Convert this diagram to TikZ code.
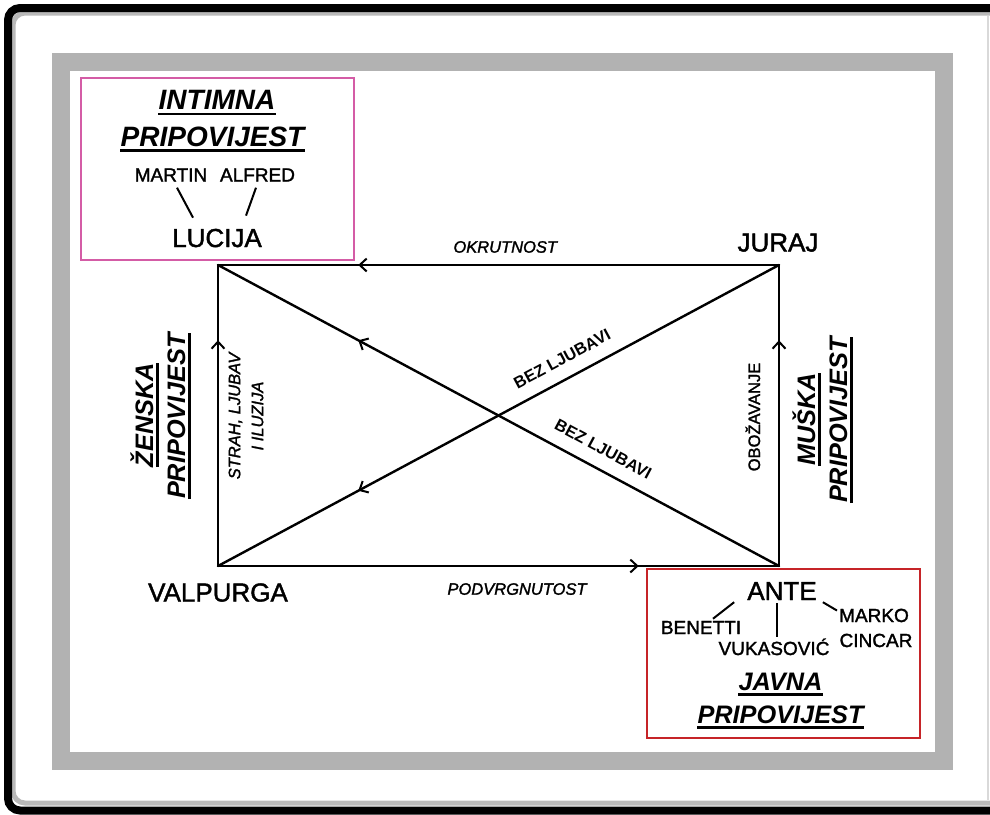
\documentclass[tikz,border=0pt]{standalone}
\usepackage{fontspec}
\setmainfont{Liberation Sans}[UprightFeatures={FakeBold=1.6},ItalicFeatures={FakeBold=1.6}]
\usetikzlibrary{arrows.meta,decorations.markings,calc}

\definecolor{framegray}{RGB}{178,178,178}
\definecolor{intimpink}{RGB}{212,92,166}
\definecolor{javred}{RGB}{198,36,40}

\tikzset{
  person/.style={font=\fontsize{26}{30}\selectfont, inner sep=0pt},
  minor/.style={font=\fontsize{19}{22}\selectfont, inner sep=0pt},
  title/.style={font=\fontsize{28}{32}\selectfont\bfseries\itshape, inner sep=0pt},
  subtitle/.style={font=\fontsize{25.3}{29}\selectfont\bfseries\itshape, inner sep=0pt},
  theme/.style={font=\fontsize{16.5}{23}\selectfont\itshape, inner sep=0pt},
  themeup/.style={font=\fontsize{16.5}{23}\selectfont, inner sep=0pt},
  nolove/.style={font=\fontsize{16.5}{20}\selectfont\bfseries, inner sep=0pt,
    sloped, above, outer ysep=14pt},
  edge/.style={line width=2.4pt, line cap=round, postaction={decorate},
    decoration={markings,
      mark=at position 0.75 with {\arrow{Straight Barb[length=7pt,width=13pt,line width=2pt]}}}},
  tie/.style={line width=2pt},
  uline/.style={line width=2.6pt},
}

\begin{document}
\begin{tikzpicture}[x=1pt,y=-1pt]
  \useasboundingbox (0,0) rectangle (990,814);
  \clip (0,0) rectangle (990,814);

  % outer frame with shadow
  \draw[gray!55, line width=5pt, rounded corners=12pt] (13,13) rectangle (1040,803);
  \draw[black, line width=8pt, rounded corners=12pt] (8,8) rectangle (1040,810.5);
  \draw[gray!30, line width=2pt] (988,16) -- (988,800);
  % gray passe-partout
  \fill[framegray] (52,53) rectangle (953,770);
  \fill[white] (70,71) rectangle (935,752);

  % story boxes
  \draw[intimpink, line width=2.2pt] (81,78) rectangle (354,260);
  \draw[javred, line width=2.2pt] (647,569) rectangle (920,738);

  % corners of the square
  \coordinate (cl) at (218,265);
  \coordinate (cj) at (779,265);
  \coordinate (cv) at (218,566);
  \coordinate (ca) at (779,566);

  % persons
  \node[person, anchor=base] (lucija) at (217,247) {LUCIJA};
  \node[person, anchor=base] (juraj) at (778,251.5) {JURAJ};
  \node[person, anchor=base] (valpurga) at (218,601.5) {VALPURGA};
  \node[person, anchor=base] (ante) at (782,600) {ANTE};

  \node[minor, anchor=base] (martin) at (171,181.5) {MARTIN};
  \node[minor, anchor=base] (alfred) at (257.5,181.5) {ALFRED};
  \node[minor, anchor=base] (benetti) at (701,634) {BENETTI};
  \node[minor, anchor=base] (vukasovic) at (774,655) {VUKASOVIĆ};
  \node[minor, anchor=base] (marko) at (874,622) {MARKO};
  \node[minor, anchor=base] (cincar) at (876,647) {CINCAR};

  % ties
  \draw[tie] ([shift={(6,6)}]martin.south) -- ([shift={(-24,-11)}]lucija.north);
  \draw[tie] ([shift={(-1.5,6)}]alfred.south) -- ([shift={(29,-13)}]lucija.north);
  \draw[tie] ([shift={(-13,2)}]ante.south west) -- ([shift={(12,-2)}]benetti.north);
  \draw[tie] ([shift={(-5,3)}]ante.south) -- ([shift={(3,-1.5)}]vukasovic.north);
  \draw[tie] ([shift={(6,2)}]ante.south east) -- ([shift={(-2,2)}]marko.north west);

  % stories
  \node[title, anchor=base] (intimna) at (217,109.5) {INTIMNA};
  \node[title, anchor=base] (intpri) at (212.5,146) {PRIPOVIJEST};
  \node[subtitle, anchor=base] (javna) at (780.5,690) {JAVNA};
  \node[subtitle, anchor=base] (javpri) at (780.5,723) {PRIPOVIJEST};
  \node[subtitle, anchor=base, rotate=90] (zenska) at (153,415) {ŽENSKA};
  \node[subtitle, anchor=base, rotate=90] (zenpri) at (185,416) {PRIPOVIJEST};
  \node[subtitle, anchor=base, rotate=90] (muska) at (815,419.5) {MUŠKA};
  \node[subtitle, anchor=base, rotate=90] (muspri) at (847,420) {PRIPOVIJEST};
  \foreach \n in {intimna,intpri,javna,javpri,zenska,zenpri,muska,muspri}
    \draw[uline] ($(\n.base west)!4.5pt!-90:(\n.base east)$)
      -- ($(\n.base east)!4.5pt!90:(\n.base west)$);

  % relations
  \draw[edge] (cj) -- node[theme, pos=0.488, above=11pt] {OKRUTNOST} (cl);
  \draw[edge] (cv) -- node[theme, pos=0.533, below=16pt] {PODVRGNUTOST} (ca);
  \draw[edge] (cv) -- (cl);
  \draw[edge] (ca) -- (cj);
  \draw[edge] (cj) -- node[nolove, pos=0.37] {BEZ LJUBAVI} (cv);
  \draw[edge] (ca) -- node[nolove, pos=0.33] {BEZ LJUBAVI} (cl);

  \node[theme, rotate=90, align=center] (fear) at (246,416) {STRAH, LJUBAV\\I ILUZIJA};
  \node[themeup, rotate=90, anchor=base] (adore) at (760,417) {OBOŽAVANJE};
\end{tikzpicture}
\end{document}
